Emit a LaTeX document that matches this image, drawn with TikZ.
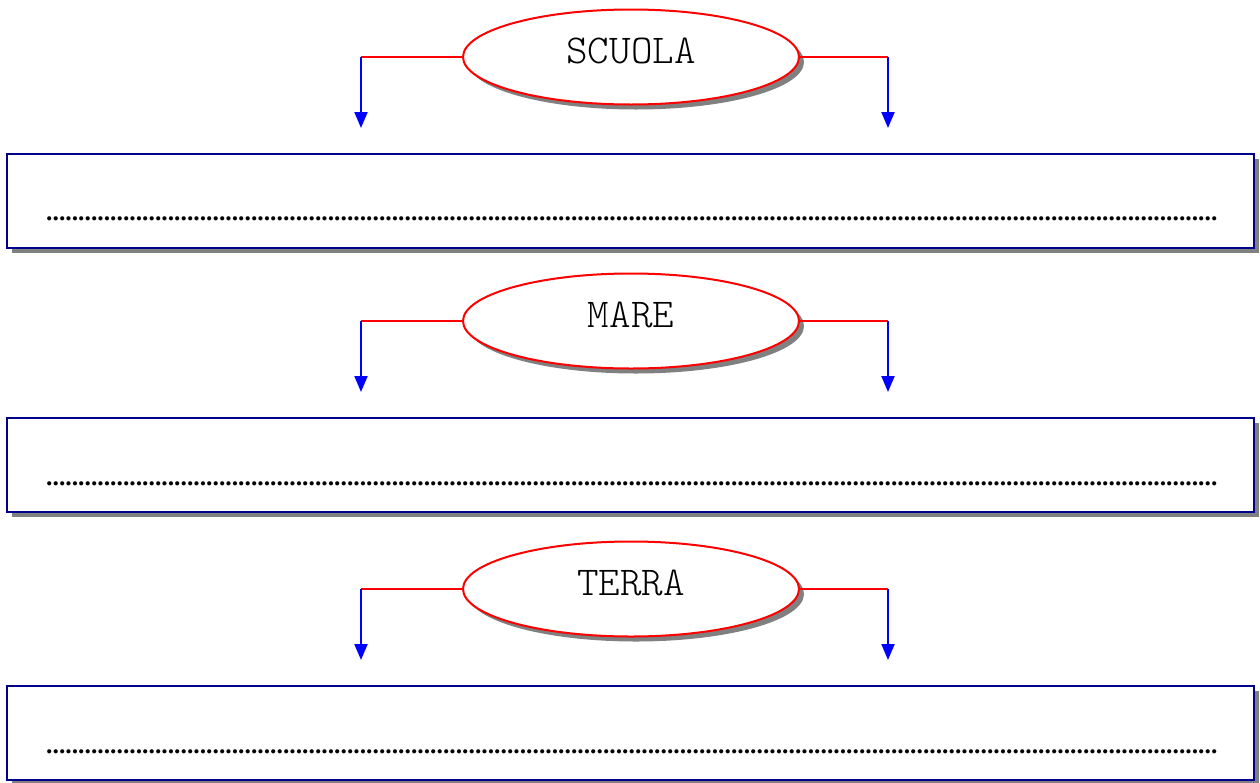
\documentclass[tikz,border=0pt]{standalone}
\usepackage{fontspec}
\setmainfont{Liberation Serif}
\newfontfamily\dotfont{Liberation Serif Bold}
\newfontfamily\labelfont{lmmonolt10-regular.otf}
\usetikzlibrary{shapes.geometric,shadows,arrows.meta}
\definecolor{navyblue}{RGB}{0,0,140}
\definecolor{shadowgray}{RGB}{128,128,128}
\newcommand\dotsten{..........}
\newcommand\dotsfifty{\dotsten\dotsten\dotsten\dotsten\dotsten}
\newcommand\dotrow{\dotsfifty\dotsfifty\dotsfifty\dotsten\dotsten\dotsten...}
\begin{document}
\begin{tikzpicture}[x=1pt,y=-1pt,
 topic/.style={ellipse, draw=red, line width=2pt, fill=white, minimum width=336pt, minimum height=95pt, inner sep=0pt,
   drop shadow={shadow xshift=5pt, shadow yshift=-5pt, fill=shadowgray, opacity=1}},
 topictext/.style={font=\labelfont\fontsize{41}{41}\selectfont, inner sep=0pt},
 answerbox/.style={rectangle, draw=navyblue, line width=2pt, fill=white, minimum width=1247pt, minimum height=94pt, inner sep=0pt,
   drop shadow={shadow xshift=5pt, shadow yshift=-5pt, fill=shadowgray, opacity=1}},
 dotline/.style={anchor=base west, inner sep=0pt, font=\dotfont\fontsize{25.6}{25.6}\selectfont},
 redline/.style={red, line width=2pt},
 bluearrow/.style={blue, line width=2pt, -{Triangle[width=13pt,length=16pt]}}]
\useasboundingbox (0,0) rectangle (1260,782);

% ---- SCUOLA ----
\node[topic] (e1) at (631,57) {};
\node[topictext] (t1) at (631,51) {SCUOLA};
\coordinate (l1) at (361,57);
\coordinate (r1) at (888,57);
\coordinate (la1) at (361,128);
\coordinate (ra1) at (888,128);
\draw[redline] (e1.west) -- (l1);
\draw[redline] (e1.east) -- (r1);
\draw[bluearrow] (l1) -- (la1);
\draw[bluearrow] (r1) -- (ra1);
\node[answerbox] (b1) at (630.5,201) {};
\node[dotline] (d1) at (46,220.5) {\dotrow};

% ---- MARE ----
\node[topic] (e2) at (631,321) {};
\node[topictext] (t2) at (631,315) {MARE};
\coordinate (l2) at (361,321);
\coordinate (r2) at (888,321);
\coordinate (la2) at (361,392);
\coordinate (ra2) at (888,392);
\draw[redline] (e2.west) -- (l2);
\draw[redline] (e2.east) -- (r2);
\draw[bluearrow] (l2) -- (la2);
\draw[bluearrow] (r2) -- (ra2);
\node[answerbox] (b2) at (630.5,465) {};
\node[dotline] (d2) at (46,485) {\dotrow};

% ---- TERRA ----
\node[topic] (e3) at (631,589) {};
\node[topictext] (t3) at (631,583) {TERRA};
\coordinate (l3) at (361,589);
\coordinate (r3) at (888,589);
\coordinate (la3) at (361,660);
\coordinate (ra3) at (888,660);
\draw[redline] (e3.west) -- (l3);
\draw[redline] (e3.east) -- (r3);
\draw[bluearrow] (l3) -- (la3);
\draw[bluearrow] (r3) -- (ra3);
\node[answerbox] (b3) at (630.5,733) {};
\node[dotline] (d3) at (46,753) {\dotrow};
\end{tikzpicture}
\end{document}
